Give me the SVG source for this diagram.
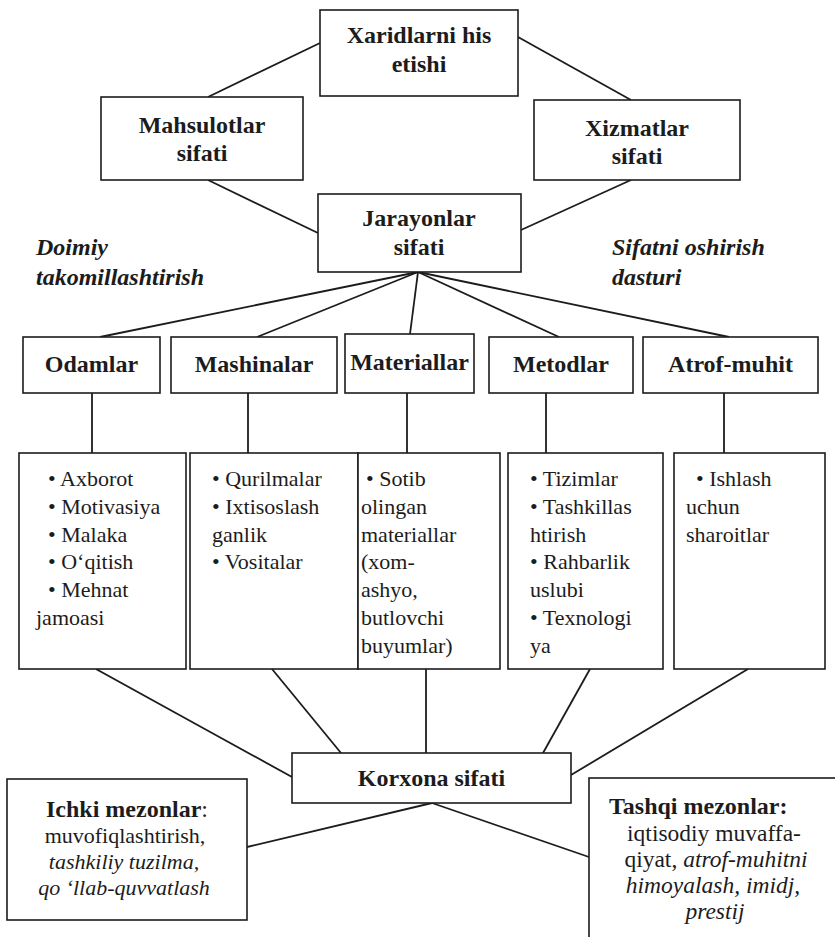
<svg xmlns="http://www.w3.org/2000/svg" width="835" height="937" viewBox="0 0 835 937">
<style>
text{font-family:"Liberation Serif", serif;fill:#1c1c1c}
.box{fill:#fff;stroke:#1c1c1c;stroke-width:1.6}
.lbl{font-weight:bold;font-size:24px;text-anchor:middle}
.ital{font-weight:bold;font-style:italic;font-size:24px}
.txt{font-size:22px}
.hd{font-size:24px}
.big{font-size:23.5px}
.mid{text-anchor:middle}
.i{font-style:italic}
.b{font-weight:bold}
#connectors line{stroke:#1c1c1c;stroke-width:1.8;fill:none}
</style>
<rect width="835" height="937" fill="#fff"/>
<g id="connectors">
<line x1="320" y1="43" x2="208" y2="97"/>
<line x1="518" y1="37" x2="631" y2="100"/>
<line x1="208" y1="180" x2="318" y2="233"/>
<line x1="631" y1="180" x2="521" y2="230"/>
<line x1="418" y1="272" x2="100" y2="337"/>
<line x1="418" y1="272" x2="257" y2="337"/>
<line x1="418" y1="272" x2="410" y2="334"/>
<line x1="418" y1="272" x2="559" y2="337"/>
<line x1="418" y1="272" x2="729" y2="337"/>
<line x1="92" y1="393" x2="92" y2="453"/>
<line x1="248" y1="393" x2="248" y2="453"/>
<line x1="407" y1="393" x2="407" y2="453"/>
<line x1="546" y1="393" x2="546" y2="453"/>
<line x1="724" y1="393" x2="724" y2="453"/>
<line x1="96" y1="669" x2="292" y2="777"/>
<line x1="272" y1="669" x2="341" y2="753"/>
<line x1="426" y1="669" x2="426" y2="753"/>
<line x1="590" y1="669" x2="543" y2="753"/>
<line x1="748" y1="669" x2="571" y2="775"/>
<line x1="432" y1="803" x2="247" y2="847"/>
<line x1="432" y1="803" x2="589" y2="857"/>
</g>
<g id="xaridlar">
<rect class="box" x="320" y="10" width="198" height="86"/>
<text class="lbl" x="419" y="43">Xaridlarni his</text>
<text class="lbl" x="419" y="72">etishi</text>
</g>
<g id="mahsulotlar">
<rect class="box" x="101" y="97" width="202" height="83"/>
<text class="lbl" x="202" y="133">Mahsulotlar</text>
<text class="lbl" x="202" y="161">sifati</text>
</g>
<g id="xizmatlar">
<rect class="box" x="534" y="100" width="206" height="80"/>
<text class="lbl" x="637" y="136">Xizmatlar</text>
<text class="lbl" x="637" y="164">sifati</text>
</g>
<g id="jarayonlar">
<rect class="box" x="318" y="194" width="203" height="78"/>
<text class="lbl" x="419" y="226">Jarayonlar</text>
<text class="lbl" x="419" y="255">sifati</text>
</g>
<g id="doimiy">
<text class="ital" x="36" y="255">Doimiy</text>
<text class="ital" x="36" y="285">takomillashtirish</text>
</g>
<g id="dastur">
<text class="ital" x="612" y="255">Sifatni oshirish</text>
<text class="ital" x="612" y="285">dasturi</text>
</g>
<g id="odamlar">
<rect class="box" x="23" y="337" width="137" height="56"/>
<text class="lbl" x="91.5" y="372">Odamlar</text>
</g>
<g id="mashinalar">
<rect class="box" x="171" y="337" width="166" height="56"/>
<text class="lbl" x="254" y="372">Mashinalar</text>
</g>
<g id="materiallar">
<rect class="box" x="345" y="334" width="129" height="59"/>
<text class="lbl" x="409.5" y="370">Materiallar</text>
</g>
<g id="metodlar">
<rect class="box" x="489" y="337" width="144" height="56"/>
<text class="lbl" x="561" y="372">Metodlar</text>
</g>
<g id="atrof">
<rect class="box" x="643" y="337" width="175" height="56"/>
<text class="lbl" x="730.5" y="372">Atrof-muhit</text>
</g>
<g id="odamlar-list">
<rect class="box" x="19" y="453" width="167" height="216"/>
<text class="txt" x="48" y="486">• Axborot</text>
<text class="txt" x="48" y="514">• Motivasiya</text>
<text class="txt" x="48" y="542">• Malaka</text>
<text class="txt" x="48" y="569">• O‘qitish</text>
<text class="txt" x="48" y="597">• Mehnat</text>
<text class="txt" x="36" y="625">jamoasi</text>
</g>
<g id="mashinalar-list">
<rect class="box" x="190" y="453" width="168" height="216"/>
<text class="txt" x="212" y="486">• Qurilmalar</text>
<text class="txt" x="212" y="514">• Ixtisoslash</text>
<text class="txt" x="212" y="542">ganlik</text>
<text class="txt" x="212" y="569">• Vositalar</text>
</g>
<g id="materiallar-list">
<rect class="box" x="358" y="453" width="142" height="216"/>
<text class="txt" x="366" y="486">• Sotib</text>
<text class="txt" x="361" y="514">olingan</text>
<text class="txt" x="361" y="542">materiallar</text>
<text class="txt" x="361" y="569">(xom-</text>
<text class="txt" x="361" y="597">ashyo,</text>
<text class="txt" x="361" y="625">butlovchi</text>
<text class="txt" x="361" y="653">buyumlar)</text>
</g>
<g id="metodlar-list">
<rect class="box" x="508" y="453" width="155" height="216"/>
<text class="txt" x="530" y="486">• Tizimlar</text>
<text class="txt" x="530" y="514">• Tashkillas</text>
<text class="txt" x="530" y="542">htirish</text>
<text class="txt" x="530" y="569">• Rahbarlik</text>
<text class="txt" x="530" y="597">uslubi</text>
<text class="txt" x="530" y="625">• Texnologi</text>
<text class="txt" x="530" y="653">ya</text>
</g>
<g id="atrof-list">
<rect class="box" x="674" y="453" width="151" height="216"/>
<text class="txt" x="696" y="486">• Ishlash</text>
<text class="txt" x="686" y="514">uchun</text>
<text class="txt" x="686" y="542">sharoitlar</text>
</g>
<g id="korxona">
<rect class="box" x="292" y="753" width="279" height="50"/>
<text class="lbl" x="431.5" y="786">Korxona sifati</text>
</g>
<g id="ichki">
<rect class="box" x="7" y="779" width="240" height="141"/>
<text class="hd mid" x="127" y="817"><tspan class="b">Ichki mezonlar</tspan>:</text>
<text class="txt mid" x="125" y="843">muvofiqlashtirish,</text>
<text class="txt mid i" x="124" y="869">tashkiliy tuzilma,</text>
<text class="txt mid i" x="124" y="895">qo ‘llab-quvvatlash</text>
</g>
<g id="tashqi">
<rect class="box" x="589" y="778" width="252" height="170"/>
<text class="hd b" x="609" y="814">Tashqi mezonlar:</text>
<text class="big mid" x="714" y="841">iqtisodiy muvaffa-</text>
<text class="big mid" x="716" y="867">qiyat, <tspan class="i">atrof-muhitni</tspan></text>
<text class="big mid i" x="713" y="893">himoyalash, imidj,</text>
<text class="big mid i" x="715" y="919">prestij</text>
</g>
</svg>
